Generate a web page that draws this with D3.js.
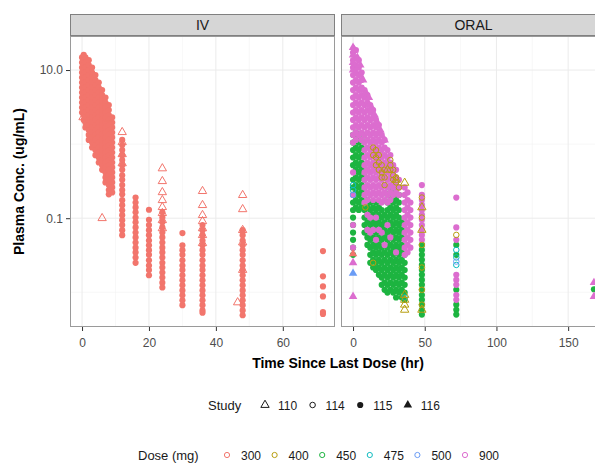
<!DOCTYPE html>
<html>
<head>
<meta charset="utf-8">
<script src="https://cdn.jsdelivr.net/npm/d3@7"></script>
<style>
  body { margin: 0; background: #fff; }
  svg { display: block; }
  text { font-family: "Liberation Sans", Arial, Helvetica, sans-serif; }
</style>
</head>
<body>
<script>
const wdth = 595;
const hght = 463;

// ---- categories / ticks ----
const panels = ["IV", "ORAL"];
const studies = ["110", "114", "115", "116"];
const doses = [300, 400, 450, 475, 500, 900];
const doseColors = ["#F2756C", "#B89E10", "#1DB440", "#10BCC0", "#6A9CF5", "#DC6DCF"];
const ivTicks = [0, 20, 40, 60];
const ivMinor = [10, 30, 50, 70];
const oralTicks = [0, 50, 100, 150];
const oralMinor = [25, 75, 125, 175];
const yTicks = [10, 0.1];
const yTickLabels = ["10.0", "0.1"];
const yMinor = [1, 0.01];
const ivDomain = [-3.6, 75.6];
const oralDomain = [-8.4, 176.4];
const yDomain = [0.0034, 28.8];

// ---- observations, as [time since last dose (hr), [conc (ug/mL) ...]] ----
const ivDose300Study115 = [
  [0, [14.8, 12.6, 10.8, 9.25, 7.92, 6.78, 5.8, 4.97, 4.25, 3.64, 3.12, 2.67]],
  [0.5, [16, 13.6, 11.7, 10, 8.56, 7.33, 6.27, 5.37, 4.6, 3.94, 3.37, 2.89, 2.47, 2.12]],
  [1, [14.8, 12.6, 10.8, 9.25, 7.92, 6.78, 5.8, 4.97, 4.25, 3.64, 3.12, 2.67, 2.29, 1.96, 1.68]],
  [2, [13.6, 11.7, 10, 8.56, 7.33, 6.27, 5.37, 4.6, 3.94, 3.37, 2.89, 2.47, 2.12, 1.81, 1.55, 1.33, 1.14]],
  [3, [10.8, 9.25, 7.92, 6.78, 5.8, 4.97, 4.25, 3.64, 3.12, 2.67, 2.29, 1.96, 1.68, 1.43, 1.23, 1.05, 0.9]],
  [4, [8.56, 7.33, 6.27, 5.37, 4.6, 3.94, 3.37, 2.89, 2.47, 2.12, 1.81, 1.55, 1.33, 1.14, 0.97, 0.83, 0.71]],
  [5, [6.78, 5.8, 4.97, 4.25, 3.64, 3.12, 2.67, 2.29, 1.96, 1.68, 1.43, 1.23, 1.05, 0.9, 0.77, 0.66, 0.565]],
  [6, [5.37, 4.6, 3.94, 3.37, 2.89, 2.47, 2.12, 1.81, 1.55, 1.33, 1.14, 0.97, 0.83, 0.71, 0.61, 0.52, 0.45]],
  [7, [4.25, 3.64, 3.12, 2.67, 2.29, 1.96, 1.68, 1.43, 1.23, 1.05, 0.9, 0.77, 0.66, 0.565, 0.485, 0.415, 0.355, 0.304]],
  [8, [3.37, 2.89, 2.47, 2.12, 1.81, 1.55, 1.33, 1.14, 0.97, 0.83, 0.71, 0.61, 0.52, 0.45, 0.38, 0.33, 0.28, 0.24, 0.21]],
  [9, [2.29, 1.96, 1.68, 1.43, 1.23, 1.05, 0.9, 0.77, 0.66, 0.565, 0.485, 0.415, 0.355, 0.304, 0.26, 0.223]],
  [12, [1.14, 0.97, 0.83, 0.71, 0.61, 0.52, 0.45, 0.38, 0.33, 0.28, 0.24, 0.21, 0.175, 0.15, 0.128, 0.11, 0.094, 0.081, 0.069, 0.059]],
  [16, [0.19, 0.163, 0.14, 0.12, 0.102, 0.088, 0.075, 0.064, 0.055, 0.047, 0.04, 0.0345, 0.0295, 0.025]],
  [20, [0.13, 0.095, 0.081, 0.069, 0.059, 0.05, 0.043, 0.037, 0.032, 0.027, 0.023, 0.02, 0.017]],
  [24, [0.12, 0.102, 0.088, 0.075, 0.064, 0.055, 0.047, 0.04, 0.0345, 0.0295, 0.025, 0.0216, 0.0185, 0.0158, 0.0135, 0.0116]],
  [30, [0.063, 0.043, 0.037, 0.032, 0.027, 0.023, 0.02, 0.017, 0.0145, 0.0124, 0.0106, 0.0091, 0.0078, 0.0067]],
  [36, [0.081, 0.069, 0.059, 0.05, 0.043, 0.037, 0.032, 0.027, 0.023, 0.02, 0.017, 0.0145, 0.0124, 0.0106, 0.0091, 0.0078, 0.0067, 0.0057, 0.0053]],
  [48, [0.069, 0.059, 0.05, 0.043, 0.037, 0.032, 0.027, 0.023, 0.02, 0.017, 0.0145, 0.0124, 0.0106, 0.0091, 0.0078, 0.0067, 0.0057, 0.0049]],
  [72, [0.036, 0.0164, 0.012, 0.0088, 0.0054, 0.0051]]
];

const ivDose300Study110 = [
  [0.3, [2.3]], [2.7, [1.4]], [6.3, [3.7]], [8, [2.2]], [6, [0.1]],
  [12, [1.45, 1.06, 0.73, 0.55]],
  [24, [0.47, 0.316, 0.224, 0.175, 0.141, 0.117, 0.094, 0.073]],
  [36, [0.232, 0.15, 0.11, 0.091, 0.073, 0.059, 0.046]],
  [48, [0.205, 0.132, 0.069, 0.047, 0.02]],
  [46.5, [0.0073]]
];

const oralDose450Study115 = [
  [0, [1.33, 1.05, 0.83, 0.66, 0.52, 0.33, 0.26, 0.206, 0.163, 0.129, 0.102, 0.081, 0.064, 0.051, 0.04, 0.032]],
  [2, [1.43, 1.14, 0.9, 0.71, 0.565, 0.45, 0.355, 0.28, 0.223, 0.176, 0.14]],
  [4, [1.33, 1.05, 0.83, 0.66, 0.52, 0.415, 0.33, 0.26, 0.206, 0.163, 0.129]],
  [6, [1.14, 0.9, 0.71, 0.565, 0.45, 0.355, 0.28, 0.223, 0.176, 0.14]],
  [8, [0.52, 0.415, 0.33, 0.26, 0.206, 0.163, 0.129, 0.102, 0.081, 0.064]],
  [10, [0.176, 0.14, 0.111, 0.088, 0.0695, 0.055, 0.0436]],
  [12, [0.163, 0.129, 0.102, 0.081, 0.064, 0.051, 0.04, 0.032, 0.025]],
  [14, [0.14, 0.111, 0.088, 0.0695, 0.055, 0.0436, 0.0345, 0.0274, 0.0216]],
  [16, [0.163, 0.129, 0.102, 0.081, 0.064, 0.051, 0.04, 0.032, 0.025, 0.02]],
  [18, [0.14, 0.111, 0.088, 0.0695, 0.055, 0.0436, 0.0345, 0.0274, 0.0216, 0.0172]],
  [20, [0.129, 0.102, 0.081, 0.064, 0.051, 0.04, 0.032, 0.025, 0.02, 0.0158, 0.0126]],
  [22, [0.111, 0.088, 0.0695, 0.055, 0.0436, 0.0345, 0.0274, 0.0216, 0.0172, 0.0135, 0.0108]],
  [24, [0.206, 0.163, 0.129, 0.102, 0.081, 0.064, 0.051, 0.04, 0.032, 0.025, 0.02, 0.0158, 0.0126, 0.0099]],
  [26, [0.223, 0.176, 0.14, 0.111, 0.088, 0.0695, 0.055, 0.0436, 0.0345, 0.0274, 0.0216, 0.0172, 0.0135, 0.0108]],
  [28, [0.26, 0.206, 0.163, 0.129, 0.102, 0.081, 0.064, 0.051, 0.04, 0.032, 0.025, 0.02, 0.0158, 0.0126, 0.0099]],
  [30, [0.28, 0.223, 0.176, 0.14, 0.111, 0.088, 0.0695, 0.055, 0.0436, 0.0345, 0.0274, 0.0216, 0.0172, 0.0135, 0.0108, 0.0085]],
  [32, [0.206, 0.163, 0.129, 0.102, 0.081, 0.064, 0.051, 0.04, 0.032, 0.025, 0.02, 0.0158, 0.0126, 0.0099]],
  [34, [0.088, 0.0695, 0.055, 0.0436, 0.0345, 0.0274, 0.0216, 0.0172, 0.0135, 0.0108, 0.0085]],
  [36, [0.032, 0.025, 0.02, 0.0158, 0.0126, 0.0099, 0.0079]],
  [48, [0.0436, 0.0373, 0.032, 0.0274, 0.0234, 0.02, 0.0172, 0.0147, 0.0126, 0.0108, 0.0092, 0.0079, 0.0068, 0.0058, 0.005]],
  [72, [0.0436, 0.032, 0.0108, 0.0068, 0.0058, 0.005]],
  [168, [0.011]]
];

const oralDose900Study115 = [
  [0, [17.2, 13.6, 10.8, 8.56, 6.78, 5.37, 4.25, 3.37, 2.67, 2.12, 1.68, 1.33, 1.05, 0.415, 0.206, 0.081, 0.04]],
  [2, [18.6, 14.8, 11.7, 9.25, 7.33, 5.8, 4.6, 3.64, 2.89, 2.29, 1.81, 1.43, 1.14]],
  [4, [13.6, 10.8, 8.56, 6.78, 5.37, 4.25, 3.37, 2.67, 2.12, 1.68, 1.33]],
  [6, [9.25, 7.33, 5.8, 4.6, 3.64, 2.89, 2.29, 1.81, 1.43, 1.14]],
  [8, [5.37, 4.25, 3.37, 2.67, 2.12, 1.68, 1.33, 1.05, 0.83, 0.66, 0.52, 0.415, 0.33, 0.26, 0.206, 0.163]],
  [10, [4.6, 3.64, 2.89, 2.29, 1.81, 1.43, 1.14, 0.9, 0.71, 0.565, 0.45, 0.355, 0.28, 0.223, 0.176, 0.111, 0.0695]],
  [12, [3.37, 2.67, 2.12, 1.68, 1.33, 1.05, 0.83, 0.66, 0.52, 0.415, 0.33, 0.26, 0.206, 0.102, 0.064]],
  [14, [2.89, 2.29, 1.81, 1.43, 1.14, 0.9, 0.71, 0.565, 0.45, 0.355, 0.28, 0.223, 0.176, 0.0695]],
  [16, [2.12, 1.68, 1.33, 1.05, 0.83, 0.66, 0.52, 0.415, 0.33, 0.26, 0.206, 0.102, 0.051]],
  [18, [1.81, 1.43, 1.14, 0.9, 0.71, 0.565, 0.45, 0.355, 0.28, 0.223, 0.176, 0.0695]],
  [20, [1.33, 1.05, 0.83, 0.66, 0.52, 0.415, 0.33, 0.26, 0.206, 0.163, 0.064]],
  [22, [1.14, 0.9, 0.71, 0.565, 0.45, 0.355, 0.28, 0.223, 0.176, 0.0436]],
  [24, [0.83, 0.66, 0.52, 0.415, 0.33, 0.26, 0.206, 0.163, 0.081]],
  [26, [0.71, 0.565, 0.45, 0.355, 0.28, 0.223, 0.176, 0.055]],
  [28, [0.52, 0.415, 0.33, 0.26, 0.206]],
  [30, [0.45, 0.355, 0.28, 0.223, 0.0345]],
  [32, [0.33, 0.26, 0.206]],
  [36, [0.26, 0.206, 0.163, 0.129, 0.102, 0.081, 0.064, 0.051, 0.04, 0.032]],
  [38, [0.223, 0.176, 0.14, 0.111, 0.088, 0.0695, 0.055, 0.0436, 0.0345]],
  [40, [0.163, 0.129, 0.102, 0.081, 0.064, 0.051, 0.04]],
  [48, [0.28, 0.206, 0.176, 0.151, 0.129, 0.111, 0.095, 0.081, 0.0695, 0.0595, 0.051]],
  [72, [0.19, 0.075, 0.051, 0.0172, 0.0147, 0.0126, 0.0092, 0.0079]]
];

const oralDose400Study114 = [
  [8.6, [0.14]], [14, [0.9, 0.71, 0.025]], [16, [0.83, 0.66, 0.52]], [18, [0.71, 0.565, 0.45]],
  [20, [0.52, 0.415, 0.355]], [22, [0.45, 0.355, 0.28]], [26, [0.61, 0.52, 0.45]],
  [28, [0.45, 0.38, 0.33]], [30, [0.355, 0.304]], [32, [0.26]],
  [48, [0.19, 0.102, 0.0436, 0.0216, 0.0108, 0.0068]], [72, [0.0595]]
];
const oralDose475Study114 = [[0, [0.28, 0.24]], [36, [0.0085]], [72, [0.0373, 0.0295, 0.0234]]];
const oralDose500Study114 = [[0, [0.206]], [72, [0.026]]];

const oralDose900Study116 = [
  [0, [20.1, 16, 12.6, 10, 0.025, 0.0088]], [1, [18.6]], [3, [14.8, 10.8]], [5, [11.7, 8.56]],
  [7, [7.33, 5.37]], [9, [4.97, 4.25]], [11, [4.25, 3.37]], [13, [3.12]], [15, [2.47]],
  [17, [1.96]], [19, [1.55]], [22, [1.14]], [168, [0.0135, 0.0088]]
];
const oralDose500Study116 = [[0, [0.018]]];
const oralDose300Study116 = [[0, [0.033]]];

const oralDose400Study110 = [
  [24, [0.45]], [30, [0.33]], [36, [0.3, 0.0092, 0.0079, 0.0068, 0.0058]], [48, [0.14, 0.0695, 0.0058]]
];

// draw order follows this table
const groups = [
  { panel: "IV", study: "115", dose: 300, cols: ivDose300Study115 },
  { panel: "IV", study: "110", dose: 300, cols: ivDose300Study110 },
  { panel: "ORAL", study: "115", dose: 450, cols: oralDose450Study115 },
  { panel: "ORAL", study: "115", dose: 900, cols: oralDose900Study115 },
  { panel: "ORAL", study: "114", dose: 400, cols: oralDose400Study114 },
  { panel: "ORAL", study: "114", dose: 475, cols: oralDose475Study114 },
  { panel: "ORAL", study: "114", dose: 500, cols: oralDose500Study114 },
  { panel: "ORAL", study: "116", dose: 900, cols: oralDose900Study116 },
  { panel: "ORAL", study: "116", dose: 500, cols: oralDose500Study116 },
  { panel: "ORAL", study: "116", dose: 300, cols: oralDose300Study116 },
  { panel: "ORAL", study: "110", dose: 400, cols: oralDose400Study110 }
];

const points = groups.flatMap((g) =>
  g.cols.flatMap(([t, cs]) =>
    cs.map((c) => ({ panel: g.panel, study: g.study, dose: g.dose, time: t, conc: c }))
  )
);

// ---- layout ----
const panelTop = 36;
const panelBottom = 327;
const stripTop = 14;
const font = '"Liberation Sans", Arial, Helvetica, sans-serif';

const color = d3.scaleOrdinal().domain(doses).range(doseColors);
const shapes = {
  "110": { type: d3.symbolTriangle, filled: false, size: 30 },
  "114": { type: d3.symbolCircle, filled: false, size: 24 },
  "115": { type: d3.symbolCircle, filled: true, size: 30 },
  "116": { type: d3.symbolTriangle, filled: true, size: 32 }
};

const y = d3.scaleLog().domain(yDomain).range([panelBottom, panelTop]);

const panelDefs = [
  { name: panels[0], x: d3.scaleLinear().domain(ivDomain).range([70, 335]), ticks: ivTicks, minor: ivMinor },
  { name: panels[1], x: d3.scaleLinear().domain(oralDomain).range([341, 606]), ticks: oralTicks, minor: oralMinor }
];

const svg = d3.select("body").append("svg")
  .attr("width", wdth)
  .attr("height", hght)
  .style("background", "#fff");

panelDefs.forEach((p, pi) => {
  const [x0, x1] = p.x.range();
  const g = svg.append("g").attr("class", "panel");

  g.append("clipPath").attr("id", "clip" + pi)
    .append("rect").attr("x", x0).attr("y", panelTop).attr("width", x1 - x0).attr("height", panelBottom - panelTop);

  g.append("rect")
    .attr("x", x0).attr("y", panelTop).attr("width", x1 - x0).attr("height", panelBottom - panelTop)
    .attr("fill", "#fff");

  // grid
  const grid = g.append("g").attr("clip-path", "url(#clip" + pi + ")");
  grid.selectAll(".vminor").data(p.minor).enter().append("line")
    .attr("x1", (d) => p.x(d)).attr("x2", (d) => p.x(d))
    .attr("y1", panelTop).attr("y2", panelBottom)
    .attr("stroke", "#f4f4f4").attr("stroke-width", 0.6);
  grid.selectAll(".hminor").data(yMinor).enter().append("line")
    .attr("x1", x0).attr("x2", x1)
    .attr("y1", (d) => y(d)).attr("y2", (d) => y(d))
    .attr("stroke", "#f4f4f4").attr("stroke-width", 0.6);
  grid.selectAll(".vmajor").data(p.ticks).enter().append("line")
    .attr("x1", (d) => p.x(d)).attr("x2", (d) => p.x(d))
    .attr("y1", panelTop).attr("y2", panelBottom)
    .attr("stroke", "#ebebeb").attr("stroke-width", 1);
  grid.selectAll(".hmajor").data(yTicks).enter().append("line")
    .attr("x1", x0).attr("x2", x1)
    .attr("y1", (d) => y(d)).attr("y2", (d) => y(d))
    .attr("stroke", "#ebebeb").attr("stroke-width", 1);

  // points
  grid.selectAll("path.pt")
    .data(points.filter((d) => d.panel === p.name))
    .enter().append("path")
    .attr("class", "pt")
    .attr("transform", (d) => "translate(" + p.x(d.time) + "," + y(d.conc) + ")")
    .attr("d", (d) => d3.symbol().type(shapes[d.study].type).size(shapes[d.study].size)())
    .attr("fill", (d) => (shapes[d.study].filled ? color(d.dose) : "none"))
    .attr("stroke", (d) => (shapes[d.study].filled ? "none" : color(d.dose)))
    .attr("stroke-width", 1);

  // border
  g.append("rect")
    .attr("x", x0 + 0.5).attr("y", panelTop + 0.5)
    .attr("width", x1 - x0 - 1).attr("height", panelBottom - panelTop - 1)
    .attr("fill", "none").attr("stroke", "#9a9a9a").attr("stroke-width", 1);

  // strip
  g.append("rect")
    .attr("x", x0 + 0.5).attr("y", stripTop + 0.5)
    .attr("width", x1 - x0 - 1).attr("height", panelTop - stripTop - 1)
    .attr("fill", "#d6d6d6").attr("stroke", "#808080").attr("stroke-width", 1);
  g.append("text")
    .attr("x", (x0 + x1) / 2).attr("y", 30)
    .attr("text-anchor", "middle")
    .attr("font-size", 14).attr("fill", "#1a1a1a")
    .text(p.name);

  // x axis
  const xa = g.append("g")
    .attr("transform", "translate(0," + panelBottom + ")")
    .call(d3.axisBottom(p.x).tickValues(p.ticks).tickSize(4).tickSizeOuter(0).tickPadding(7).tickFormat(d3.format("d")));
  xa.select(".domain").remove();
  xa.selectAll(".tick line").attr("stroke", "#333");
  xa.selectAll(".tick text").attr("font-size", 12).attr("font-family", font).attr("fill", "#4d4d4d");
});

// y axis on first panel
const ya = svg.append("g")
  .attr("transform", "translate(" + panelDefs[0].x.range()[0] + ",0)")
  .call(d3.axisLeft(y).tickValues(yTicks).tickSize(4).tickPadding(3).tickFormat((d, i) => yTickLabels[i]));
ya.select(".domain").remove();
ya.selectAll(".tick line").attr("stroke", "#333");
ya.selectAll(".tick text").attr("font-size", 12).attr("font-family", font).attr("fill", "#4d4d4d");

// axis titles
svg.append("text")
  .attr("x", (70 + 606) / 2).attr("y", 368)
  .attr("text-anchor", "middle")
  .attr("font-size", 14).attr("font-weight", "bold").attr("fill", "#000")
  .text("Time Since Last Dose (hr)");

svg.append("text")
  .attr("transform", "translate(24," + (panelTop + panelBottom) / 2 + ") rotate(-90)")
  .attr("text-anchor", "middle")
  .attr("font-size", 14).attr("font-weight", "bold").attr("fill", "#000")
  .text("Plasma Conc. (ug/mL)");

// legends
const keyStep = 47.6;
const studyLegend = svg.append("g").attr("transform", "translate(0,405)");
studyLegend.append("text").attr("x", 208).attr("y", 4.5)
  .attr("font-size", 13).attr("fill", "#1a1a1a").text("Study");
studies.forEach((s, i) => {
  const kx = 265 + i * keyStep;
  studyLegend.append("path")
    .attr("transform", "translate(" + kx + ",0)")
    .attr("d", d3.symbol().type(shapes[s].type).size(shapes[s].size)())
    .attr("fill", shapes[s].filled ? "#1a1a1a" : "none")
    .attr("stroke", shapes[s].filled ? "none" : "#1a1a1a")
    .attr("stroke-width", 1);
  studyLegend.append("text").attr("x", kx + 13).attr("y", 4.5)
    .attr("font-size", 12).attr("fill", "#1a1a1a").text(s);
});

const doseLegend = svg.append("g").attr("transform", "translate(0,455)");
doseLegend.append("text").attr("x", 138).attr("y", 4.5)
  .attr("font-size", 13).attr("fill", "#1a1a1a").text("Dose (mg)");
doses.forEach((d, i) => {
  const kx = 227 + i * keyStep;
  doseLegend.append("circle").attr("cx", kx).attr("cy", 0).attr("r", 2.6)
    .attr("fill", "none").attr("stroke", color(d)).attr("stroke-width", 1);
  doseLegend.append("text").attr("x", kx + 14).attr("y", 4.5)
    .attr("font-size", 12).attr("fill", "#1a1a1a").text(d);
});
</script>
</body>
</html>
